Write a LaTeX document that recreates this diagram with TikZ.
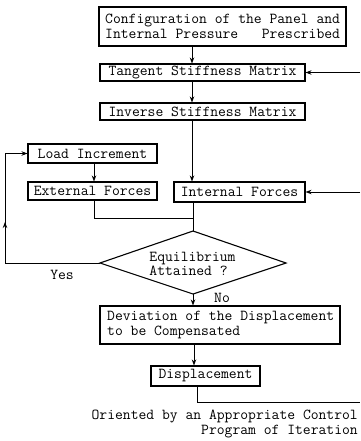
\documentclass[tikz,border=0pt]{standalone}
\usepackage{fontspec}
\usetikzlibrary{arrows.meta}
\tikzset{
  box/.style={draw, line width=1.1pt, inner sep=0pt, font=\ttfamily\fontsize{15.2}{15}\selectfont},
  lbl/.style={inner sep=0pt, font=\ttfamily\fontsize{15.2}{14}\selectfont},
  conn/.style={line width=0.8pt},
  arr/.style={conn, -{Stealth[length=6pt,width=4.5pt]}},
}
\begin{document}
\begin{tikzpicture}[x=1pt,y=-1pt]
\useasboundingbox (0,0) rectangle (360,441);
% boxes
\node[box, minimum width=247pt, minimum height=39pt] (top) at (222.5,26.5) {};
\node[lbl, align=left, anchor=west, font=\ttfamily\fontsize{15.2}{15}\selectfont] (toptext) at (105,26.5) {Configuration of the Panel and\\Internal Pressure\ \ \ Prescribed};
\node[box, minimum width=205pt, minimum height=17pt] (tangent) at (202.5,72.5) {Tangent Stiffness Matrix};
\node[box, minimum width=205pt, minimum height=17pt] (inverse) at (202.5,111.5) {Inverse Stiffness Matrix};
\node[box, minimum width=129pt, minimum height=19pt] (load) at (92.5,153.5) {Load Increment};
\node[box, minimum width=129pt, minimum height=18pt] (external) at (92.5,191) {External Forces};
\node[box, minimum width=131pt, minimum height=20pt] (internal) at (239.5,192) {Internal Forces};
% diamond
\coordinate (dtop) at (193,231);
\coordinate (dleft) at (100,263);
\coordinate (dright) at (286,263);
\coordinate (dbot) at (193,294);
\draw[line width=1.1pt] (dtop) -- (dright) -- (dbot) -- (dleft) -- cycle;
\node[lbl, align=left] (eq) at (192.5,264) {Equilibrium\\Attained ?};
\node[box, minimum width=240pt, minimum height=38pt] (dev) at (220,325) {};
\node[lbl, align=left, anchor=west, font=\ttfamily\fontsize{15.2}{15}\selectfont] (devtext) at (107,325) {Deviation of the Displacement\\to be Compensated};
\node[box, minimum width=109pt, minimum height=20pt] (disp) at (205.5,376) {Displacement};
% helper coordinates
\coordinate (spine) at (192,0);
\coordinate (lx) at (94,0);
\coordinate (re1) at (360,72.5);
\coordinate (re2) at (360,192);
\coordinate (join) at (193,218);
\coordinate (ybl) at (5,263);
\coordinate (ytl) at (5,153.5);
\coordinate (ymid) at (5,222);
\coordinate (dd) at (197,0);
\coordinate (fb) at (197,402);
\coordinate (fr) at (360,402);
% connectors
\draw[arr] (top.south -| spine) -- (tangent.north -| spine);
\draw[arr] (tangent.south -| spine) -- (inverse.north -| spine);
\draw[arr] (inverse.south -| spine) -- (internal.north -| spine);
\draw[arr] (re1) -- (tangent.east);
\draw[arr] (re2) -- (internal.east);
\draw[arr] (load.south -| lx) -- (external.north -| lx);
\draw[conn] (external.south -| lx) |- (join);
\draw[conn] (internal.south -| join) -- (dtop);
\draw[conn] (dleft) -- (ybl) -- (ymid);
\draw[arr] (ybl) -- (ymid);
\draw[conn] (ymid) -- (ytl);
\draw[arr] (ytl) -- (load.west);
\draw[arr] (dbot) -- (dev.north -| dbot);
\draw[arr] (dev.south -| 194,0) -- (disp.north -| 194,0);
\draw[conn] (disp.south -| dd) -- (fb) -- (fr);
% labels
\node[lbl] (yes) at (62,275) {Yes};
\node[lbl] (no) at (222,298) {No};
\node[lbl, align=right, anchor=north east, font=\ttfamily\fontsize{15.2}{14.5}\selectfont] (foot) at (358,410) {Oriented by an Appropriate Control\\Program of Iteration};
\end{tikzpicture}
\end{document}
